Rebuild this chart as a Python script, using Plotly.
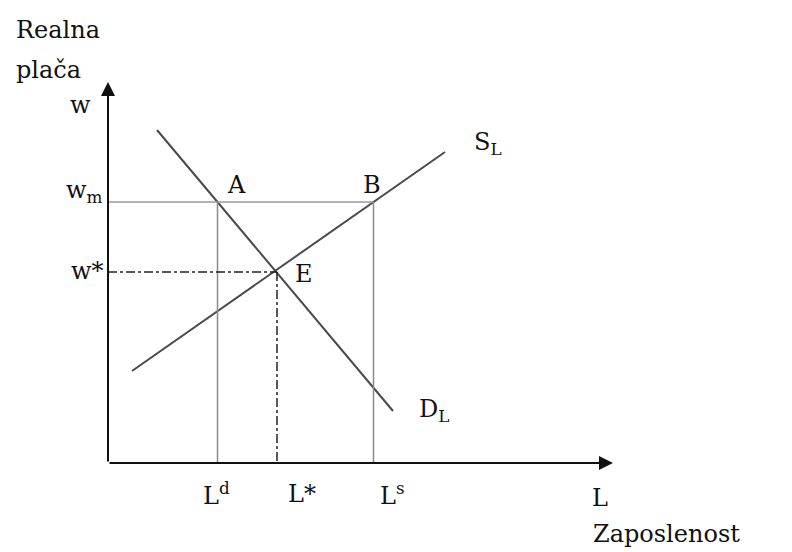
import plotly.graph_objects as go

# ---- diagram values (data units) ----
demand_L = [0.98, 5.70]
demand_w = [6.66, 1.04]
supply_L = [0.48, 6.74]
supply_w = [1.84, 6.22]
w_min = 5.22
w_star = 3.82
L_d = 2.19
L_star = 3.38
L_s = 5.31
axis_L_max = 10.1
axis_w_max = 7.62

y_title = ["Realna", "plača"]
x_title = "Zaposlenost"
L_tick_labels = ["L<sup>d</sup>", "L*", "L<sup>s</sup>"]
w_tick_labels = ["w<sub>m</sub>", "w*"]
point_labels = ["A", "B", "E"]
curve_labels = ["S<sub>L</sub>", "D<sub>L</sub>"]

FONT = dict(family="DejaVu Serif", size=24, color="#111")

fig = go.Figure()

# supply and demand curves
fig.add_trace(go.Scatter(x=demand_L, y=demand_w, mode="lines",
                         line=dict(color="#4a4a4a", width=2), hoverinfo="skip"))
fig.add_trace(go.Scatter(x=supply_L, y=supply_w, mode="lines",
                         line=dict(color="#4a4a4a", width=2), hoverinfo="skip"))

# minimum wage horizontal line
fig.add_trace(go.Scatter(x=[0, L_s], y=[w_min, w_min], mode="lines",
                         line=dict(color="#9a9a9a", width=1.5), hoverinfo="skip"))
# vertical lines at L^d and L^s
fig.add_trace(go.Scatter(x=[L_d, L_d], y=[0, w_min], mode="lines",
                         line=dict(color="#8a8a8a", width=1.5), hoverinfo="skip"))
fig.add_trace(go.Scatter(x=[L_s, L_s], y=[0, w_min], mode="lines",
                         line=dict(color="#8a8a8a", width=1.5), hoverinfo="skip"))
# equilibrium dash-dot lines
fig.add_trace(go.Scatter(x=[0, L_star], y=[w_star, w_star], mode="lines",
                         line=dict(color="#222", width=1.5, dash="dashdot"), hoverinfo="skip"))
fig.add_trace(go.Scatter(x=[L_star, L_star], y=[w_star, 0], mode="lines",
                         line=dict(color="#222", width=1.5, dash="dashdot"), hoverinfo="skip"))

annotations = []
# axes with arrows
annotations.append(dict(x=axis_L_max, y=0, ax=0, ay=0, xref="x", yref="y", axref="x", ayref="y",
                        showarrow=True, arrowhead=2, arrowsize=1.4, arrowwidth=2,
                        arrowcolor="#111", text="", standoff=0))
annotations.append(dict(x=0, y=axis_w_max, ax=0, ay=0, xref="x", yref="y", axref="x", ayref="y",
                        showarrow=True, arrowhead=2, arrowsize=1.4, arrowwidth=2,
                        arrowcolor="#111", text="", standoff=0))

def label(text, x, y, xanchor="center", yanchor="middle"):
    annotations.append(dict(x=x, y=y, xref="x", yref="y", text=text, showarrow=False,
                            font=FONT, xanchor=xanchor, yanchor=yanchor))

# axis titles
label(y_title[0], -1.88, 8.66, xanchor="left")
label(y_title[1], -1.88, 7.86, xanchor="left")
label("w", -0.56, 7.16)
label("L", 9.84, -0.70)
label(x_title, 11.16, -1.42)

# wage ticks
label(w_tick_labels[0], -0.06, w_min + 0.22, xanchor="right")
label(w_tick_labels[1], -0.04, w_star + 0.02, xanchor="right")

# employment ticks
label(L_tick_labels[0], L_d - 0.02, -0.62)
label(L_tick_labels[1], L_star + 0.50, -0.62)
label(L_tick_labels[2], L_s + 0.38, -0.62)

# points
label(point_labels[0], L_d + 0.37, w_min + 0.34)
label(point_labels[1], L_s - 0.03, w_min + 0.34)
label(point_labels[2], L_star + 0.54, w_star - 0.04)

# curve labels
label(curve_labels[0], supply_L[1] + 0.86, supply_w[1] + 0.18)
label(curve_labels[1], demand_L[1] + 0.82, demand_w[1] + 0.02)

# page body has an 8px margin, so the figure is 784x544 and shifted ranges
fig.update_layout(
    width=784, height=544,
    margin=dict(l=0, r=0, t=0, b=0),
    paper_bgcolor="white", plot_bgcolor="white",
    showlegend=False,
    xaxis=dict(range=[-2.0, 13.68], visible=False, fixedrange=True),
    yaxis=dict(range=[-1.78, 9.10], visible=False, fixedrange=True),
    annotations=annotations,
)

fig.write_html("out.html")
